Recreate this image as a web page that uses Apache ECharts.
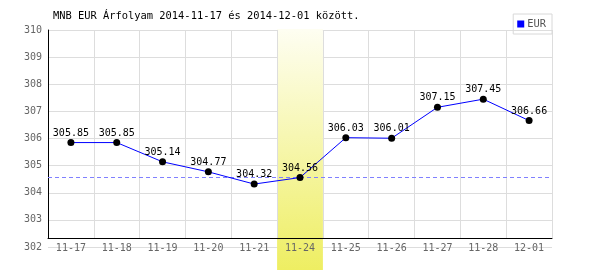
<!DOCTYPE html>
<html>
<head>
<meta charset="utf-8">
<script src="https://cdn.jsdelivr.net/npm/echarts@6/dist/echarts.min.js"></script>
<style>html,body{margin:0;padding:0;background:#fff;}#c{width:600px;height:270px;}</style>
</head>
<body>
<div id="c"></div>
<script>
var titleText = 'MNB EUR Árfolyam 2014-11-17 és 2014-12-01 között.';
var categories = ['11-17','11-18','11-19','11-20','11-21','11-24','11-25','11-26','11-27','11-28','12-01'];
var eurValues = [305.85, 305.85, 305.14, 304.77, 304.32, 304.56, 306.03, 306.01, 307.15, 307.45, 306.66];
var highlightCategory = '11-24';
var referenceValue = 304.56;
var yMin = 302, yMax = 310, yStep = 1;

var FONT = 'DejaVu Sans Mono';
var bandData = categories.map(function (c) { return c === highlightCategory ? 1 : null; });

var chart = echarts.init(document.getElementById('c'), null, {renderer: 'canvas'});
chart.setOption({
  animation: false,
  backgroundColor: '#fff',
  title: {
    text: titleText, left: 53, top: 11, padding: 0,
    textStyle: {fontFamily: FONT, fontSize: 10.4, fontWeight: 'normal', color: '#000'}
  },
  legend: {
    right: 48, top: 14, padding: [5, 6, 5, 4],
    borderColor: '#d8d8d8', borderWidth: 1,
    itemWidth: 7, itemHeight: 7, itemGap: 5,
    textStyle: {fontFamily: FONT, fontSize: 10.4, color: '#555', padding: [0, 0, 0, -2]},
    data: [{name: 'EUR', icon: 'rect', itemStyle: {color: '#0000ff'}}]
  },
  grid: [
    {left: 48, right: 48, top: 30, height: 217},
    {left: 48, right: 48, top: 30, height: 208},
    {left: 48, right: 48, top: 29, bottom: 0}
  ],
  xAxis: [
    {gridIndex: 0, type: 'category', data: categories, show: false},
    {gridIndex: 1, type: 'category', data: categories, z: 3,
      axisLine: {show: true, lineStyle: {color: '#000', width: 1}},
      axisTick: {show: false},
      splitLine: {show: true, lineStyle: {color: '#dddddd', width: 1}},
      axisLabel: {fontFamily: FONT, fontSize: 10, color: '#666', margin: 5}
    },
    {gridIndex: 2, type: 'category', data: categories, show: false}
  ],
  yAxis: [
    {gridIndex: 0, type: 'value', min: yMin, max: yMax, interval: yStep,
      axisLine: {show: false}, axisTick: {show: false},
      splitLine: {show: true, lineStyle: {color: '#dddddd', width: 1}},
      axisLabel: {fontFamily: FONT, fontSize: 10, color: '#666', margin: 6}
    },
    {gridIndex: 1, type: 'value', min: 0, max: 1, z: 3,
      axisLine: {show: true, lineStyle: {color: '#000', width: 1}},
      axisTick: {show: false}, axisLabel: {show: false}, splitLine: {show: false}
    },
    {gridIndex: 2, type: 'value', min: 0, max: 1, show: false}
  ],
  series: [
    {
      name: 'ref', type: 'line', xAxisIndex: 0, yAxisIndex: 0, z: 1,
      data: eurValues, symbol: 'none', silent: true,
      lineStyle: {opacity: 0}, itemStyle: {opacity: 0},
      markLine: {
        silent: true, symbol: ['none', 'none'], label: {show: false},
        lineStyle: {color: '#8080ff', type: [4, 3], width: 1, opacity: 1},
        data: [{yAxis: referenceValue}]
      }
    },
    {
      name: 'band', type: 'bar', xAxisIndex: 2, yAxisIndex: 2, z: 2,
      data: bandData, barWidth: '100%', silent: true,
      itemStyle: {
        color: new echarts.graphic.LinearGradient(0, 0, 0, 1, [
          {offset: 0, color: '#fefef2'},
          {offset: 1, color: '#eeee62'}
        ])
      }
    },
    {
      name: 'EUR', type: 'line', xAxisIndex: 0, yAxisIndex: 0, z: 5,
      data: eurValues,
      symbol: 'circle', symbolSize: 7,
      itemStyle: {color: '#000'},
      lineStyle: {color: '#0000ff', width: 1},
      label: {show: true, position: 'top', distance: 1,
        fontFamily: FONT, fontSize: 10, color: '#000',
        formatter: function (p) { return p.value.toFixed(2); }}
    }
  ]
});
</script>
</body>
</html>
